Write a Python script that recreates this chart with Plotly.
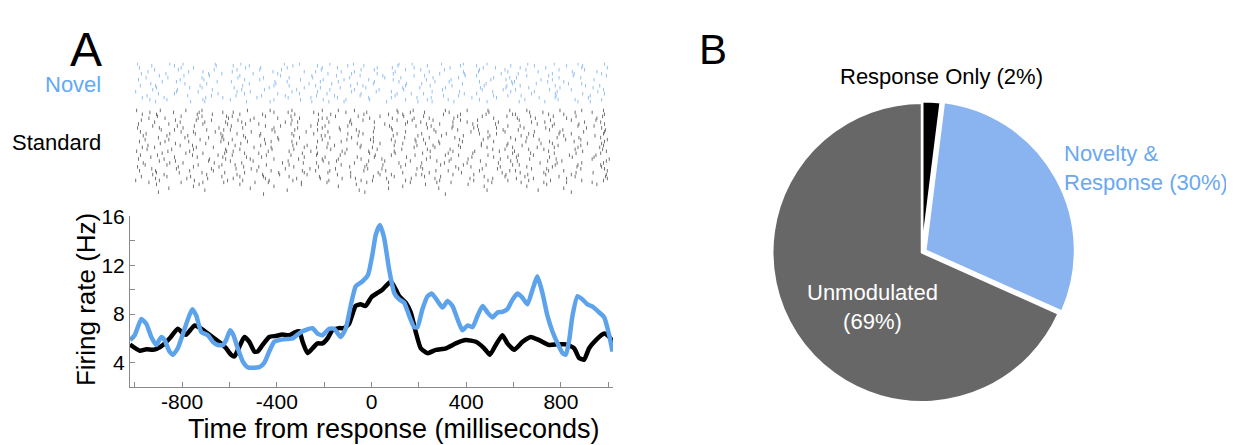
import plotly.graph_objects as go

# ---------------- Data ----------------
# Panel A, firing-rate traces (time in ms, rate in Hz)
std_t = [-1020, -979, -951, -923, -902, -881, -853, -818, -796, -782, -747, -719, -691, -663, -635,
         -614, -593, -579, -558, -537, -516, -495, -481, -460, -432, -404, -376, -347, -326, -305,
         -291, -270, -249, -228, -207, -186, -165, -137, -116, -95, -67, -46, -25, 0, 25, 46, 82,
         103, 117, 145, 166, 187, 208, 237, 272, 314, 356, 398, 441, 476, 500, 525, 553, 574, 603,
         638, 673, 708, 750, 786, 821, 856, 877, 898, 919, 948, 983, 1004, 1020]
std_hz = [5.5, 5.0, 5.12, 5.07, 5.2, 5.47, 6.0, 6.8, 6.4, 6.32, 7.07, 6.8, 6.4, 6.0, 5.6,
          5.2, 4.67, 4.53, 5.33, 6.13, 5.73, 4.93, 4.93, 5.47, 6.13, 6.21, 6.32, 6.27, 6.48, 6.59,
          5.73, 4.8, 5.2, 5.6, 5.6, 6.0, 6.67, 6.85, 6.85, 7.2, 8.67, 8.8, 8.67, 9.4, 9.73, 10.0, 10.67,
          10.0, 9.47, 8.93, 8.13, 6.53, 5.2, 4.8, 5.07, 5.2, 5.6, 5.87, 5.73, 5.2, 4.67, 5.47, 6.27, 5.6, 5.07,
          5.73, 6.13, 5.87, 5.47, 5.52, 5.52, 5.2, 4.4, 4.27, 5.2, 5.87, 6.4, 6.13, 5.73]

nov_t = [-1020, -1000, -972, -951, -930, -909, -888, -874, -853, -839, -818, -796, -775, -757, -740,
         -719, -691, -670, -649, -628, -614, -597, -583, -565, -544, -523, -502, -474, -453, -432,
         -411, -390, -361, -333, -312, -291, -270, -249, -228, -207, -179, -158, -130, -109, -88,
         -67, -39, -15, 4, 18, 36, 53, 75, 96, 117, 138, 159, 180, 194, 215, 237, 255, 279, 300,
         321, 342, 363, 384, 406, 427, 448, 469, 490, 511, 532, 553, 574, 596, 617, 638, 659, 680,
         701, 722, 743, 765, 786, 807, 821, 835, 849, 870, 891, 912, 934, 962, 983, 1004, 1018]
nov_hz = [5.87, 6.27, 7.6, 7.2, 6.13, 5.47, 6.13, 5.87, 4.93, 4.67, 5.2, 6.4, 7.6, 8.4, 7.87,
          6.53, 6.27, 5.73, 5.47, 5.47, 5.87, 6.67, 6.27, 5.2, 4.13, 3.65, 3.6, 3.65, 4.0, 4.93,
          5.73, 5.87, 5.95, 6.0, 6.32, 6.59, 6.75, 6.85, 6.4, 6.27, 6.8, 6.8, 6.13, 6.8, 8.67,
          10.27, 10.67, 11.2, 12.9, 14.5, 15.3, 14.27, 11.6, 9.73, 9.2, 8.93, 7.87, 6.93, 6.93, 8.4, 9.47, 9.68, 9.07, 8.53,
          9.07, 8.67, 7.6, 6.67, 7.07, 6.93, 7.87, 8.67, 8.13, 7.73, 8.13, 8.19, 8.4, 9.2, 9.68, 9.33, 8.8, 10.0,
          11.07, 9.73, 7.87, 6.53, 5.6, 4.8, 4.67, 5.87, 7.87, 9.47, 9.2, 8.8, 8.61, 8.13, 7.73, 6.27, 4.93]

x_tick_vals = [-800, -400, 0, 400, 800]
x_tick_text = ["-800", "-400", "0", "400", "800"]
y_tick_vals = [4, 8, 12, 16]
y_tick_text = ["4", "8", "12", "16"]

# Panel A, spike rasters: one string per trial, 40-ms bins from -1000 ms;
# a digit marks a spike, its value = position inside the bin in tenths.
raster_t0 = -1000
raster_bin = 40
novel_trials = [
    "3..7.1..5. .2...8.4.. 6..1...9.3 ..4.7..2.. .5..3.8..6",
    ".8..2...6. 4.1...7..3 ..5.2..8.. 9...4.1..7 ..2..6.3..",
    "5...9.2... .7.3..1..8 .4...6.2.5 ...3..8.1. 7..4...2.9",
    "..1.6...4. 8..2.5...7 ...9.3..6. 2.7...4..1 .3..8..5..",
    ".4...7.2.. 3...6..9.1 .8.2...5.. .1..7.3..4 ..6...2.8.",
    "7..3...8.2 ..5..1.... 4.9..6.3.. ..2.8...7. 5...1.4..3",
    "..6..2.9.. .1...4..7. .3.8..2..5 6...9.1... .4.7..3..8",
    ".2.5...1.. 9..6..3.8. ..7...4.1. .5..2..9.6 3...8..1..",
    "4...8..3.. .6.2...5.9 ..1.7..3.. 8..4...6.2 ..9.1...5.",
    "..9.4...7. 2...8.1..6 .5...3.9.. .7.2..4..8 1..6.3....",
    ".7...3.6.. ..1.9...4. 8..5.2..7. 3...6..1.9 ..4..8.2..",
    "6.2...9... .4..7.3..1 ..8.1...6. .2.5..9..3 7...4..6.1",
    "..3..8.1.. 5...2..9.6 .7..4...3. 1.8...5..2 .6..9...4.",
    ".9..5...2. .3.7...1.. 6..2.8..4. ..5...7.9. 2..8..1..5",
    "1...4.7... 8.2...6..3 ..9..5.1.. .4..3..8.7 ..2.6...9.",
    "..5.2...8. .6...1.4.. 3..9...7.2 5...8.1... .9..4..3.6",
    ".3...6..1. 7..4.9...2 .1.8...5.. ..6.2..9.4 8...5...1.",
    "8..1...5.3 ..9...2.6. .4..7..1.8 .3...6..2. ..7.4..9..",
    ".6.4...2.. 1...7..5.9 ..3.8...6. 9..1..4... .2..7.5..3",
    "..2..9.4.. .8..3...7. 5.1...6..9 .4.7...2.. 6..3..8.1.",
]
standard_trials = [
    "2.7..4.1.. .9..3.6..8 .5.2...7.4 ..8..1.3.6 .4..9..2.5",
    ".6..1.8..3 4...7.2.9. ..3.5..8.1 6..2...4.. .7.1..5.3.",
    "8.3...6.2. .1.5..9..4 7...2.8.3. ..6.4..1.9 2..7.3...6",
    "..4.9..1.7 3..8..5... .2.6.9..4. 5...1.7..3 .8..2.6..4",
    ".5.2..7..9 ..6..1.4.8 3...8..2.5 .1.7...9.. 4.3..6..8.",
    "7...3.5.1. 9.2...6..4 ..8.1..7.3 .5..4.2... 6..9..1.7.",
    "..1.8..4.6 .3...9.2.. 5.7..3..8. 2..6.1..4. .9.3...5.2",
    "4..6...2.8 .7.1..5..3 ..9...4.6. 8.2..7..1. ..5.3.9..6",
    ".9..5.3... 2..8.4..6. 1.5...9..7 .3.6..2..4 7...1.8.5.",
    "3.6..1..9. .4..7..2.8 .6...3.1.. 9..5.8..2. .1.4...7.3",
    "..8.2..6.4 1...5.9..3 .7.4...2.. .6..1.3.9. 5..8.2...7",
    "6...9.2.5. ..3.8...1. 4..7.2..6. .8...5.3.1 ..2.9..4.6",
    ".2.7..4..1 8..3..6.9. ..5.1..7.. 3.9...4.2. .6..8.1..5",
    "9..4.6...3 .5.2..8..7 1..6...3.9 ..4.7..5.. 8.1..3..6.",
    "..5..3.8.2 .7...1.4.. 6.9..2..5. .1.8...3.7 .4..6.9..2",
    ".1.6..9..4 3..7.2...8 ..4.9..1.6 5...3.8... 2.7..5.1.9",
    "5..2.7...1 .9..4.6..3 .8...2.5.7 ..1.6..9.. .3.8..4..6",
    "..7.3..5.9 .2.8...1.. 4..5.9..3. 7.2...6..4 ..9.1..8.3",
    ".4..8.1... 6..3..7.2. .1.9...4.8 .5..2.6..3 9...7..1.5",
    "8.1...5.3. ..6.4..9.2 3..8.1...5 .7..4..2.9 ..5.3.8..1",
    ".3.9..2..6 .1..5.8... 7.4..6..2. 9..3...8.1 .6.2..5..4",
    "2..5.8...7 4...1.3.6. .9..7..4.. .2.6.9..5. 1..7...3.8",
    "..9..4.2.5 .6.1...7.3 ..2.8..5.. 4..1.7...9 .8..3.6..2",
    "6.4...1.8. 3..9..5..2 .7...4.1.6 ..8.2..3.. 5.1..9..7.",
    ".7..2.6..3 .8.4...9.. 1..5.3..7. .2...6.9.4 3..8..2.5.",
    "4..1...9.6 ..2.7..3.8 .5.9..1... 8..4.2..6. .7..5...3.1",
    "..6.3..8.. 1.5...2..9 .3..7.4..1 .9.2..5..7 4..6.1...8",
    "9..7.1..4. .3...6.8.2 5..2...9.. 3.7..1..4. ..8.6..2.5",
    ".1.4..7..2 6..9..3... .8..5.2.6. ..3.7..1.9 6...4.8..2",
    "3...6.2.9. .5.1..8..4 ..7.3...1. 2..9.5..6. .4..1.7..3",
    ".8..4...1. 7.3..9..5. .2..6.1..8 4...2.7.3. .9.5...1.6",
    "5.2..8..3. ..9.4..7.1 6...2.5... .8.1..4..6 2..7.3...9",
    "..3.7..1.5 .6...2.9.. 4.8..7..3. .1..5...8. 7..2..6.4.",
    ".9.1...6.. 8..5.3..2. .4...9.1.7 3..6.8...2 .5.4..1..8",
    "7..4.9...2 .1.6..3..5 ..8..2.4.. 6.3...9..1 .2..8.5..7",
    "..2..5.7.. 4..8...1.6 .9.3..6..2 .7...4.8.. 3.1..6...9",
    "1.6...3..8 .4..2.7... 5..9.1..6. ..2..8.3.4 .6.9...2.5",
    ".5..9..2.4 ..7.1..6.. 3...5.8..1 .9.4...7.. 8..2.6..3.",
    "..3...8... .1.....6.. ...4...... 7....2.... ...5....8.",
    "......2... ....7..... .5......3. ......9... .4........",
    "...6...... ..2....... ......8... ..1....... .....3....",
    ".......4.. ......1... ...7...... .......2.. ..6.......",
    "..5....... .......... ....3..... .......... ......1...",
    ".......... ...6...... .......... ..8....... ..........",
]

# Panel B, pie
pie_labels = ["Response Only", "Novelty &<br>Response", "Unmodulated<br>"]
pie_pcts = [2, 30, 69]
pie_colors = ["#000000", "#8ab4f0", "#676767"]

# ---------------- Layout helpers ----------------
# the page body has an 8px margin, so the figure is shifted by 8px
OFF = 8
W, H = 1234 - OFF, 445 - OFF
def px(x): return (x - OFF) / W
def py(y): return 1 - (y - OFF) / H

FONT = "Liberation Sans, Arial, Helvetica, sans-serif"
BLUE_LINE = "#5da3ec"
AXC = "#8a8a8a"

RASTER_TOP, RASTER_BOT = 52, 189
RASTER_H = RASTER_BOT - RASTER_TOP


def raster_xy(rows, top_px, pitch):
    xs, ys = [], []
    for k, row in enumerate(rows):
        row = row.replace(" ", "")
        yc = RASTER_H - (top_px + pitch * (k + 0.5))
        for i, ch in enumerate(row):
            if ch.isdigit():
                t = raster_t0 + (i + int(ch) / 10) * raster_bin
                xs += [t, t, None]
                ys += [yc - 1.8, yc + 1.8, None]
    return xs, ys

fig = go.Figure()

nx, ny = raster_xy(novel_trials, 0, 2.05)
sx, sy = raster_xy(standard_trials, 48, 2.0)
fig.add_trace(go.Scatter(x=nx, y=ny, mode="lines", line=dict(color="#93bff2", width=1),
                         xaxis="x", yaxis="y", hoverinfo="skip"))
fig.add_trace(go.Scatter(x=sx, y=sy, mode="lines", line=dict(color="#707070", width=1),
                         xaxis="x", yaxis="y", hoverinfo="skip"))

fig.add_trace(go.Scatter(x=std_t, y=std_hz, mode="lines",
                         line=dict(color="black", width=4.5, shape="spline", smoothing=0.5),
                         xaxis="x2", yaxis="y2"))
fig.add_trace(go.Scatter(x=nov_t, y=nov_hz, mode="lines",
                         line=dict(color=BLUE_LINE, width=4.5, shape="spline", smoothing=0.5),
                         xaxis="x2", yaxis="y2"))

pie_pull = 0.025
cx, cy, r = 922, 247, 154
half = r * (1 + pie_pull)
fig.add_trace(go.Pie(values=pie_pcts, labels=[l.replace("<br>", " ") for l in pie_labels],
                     marker=dict(colors=pie_colors, line=dict(color="white", width=2.5)),
                     sort=False, direction="clockwise", rotation=0,
                     pull=[0.01, pie_pull, 0], textinfo="none",
                     domain=dict(x=[px(cx - half), px(cx + half)], y=[py(cy + half), py(cy - half)])))

xdom = [px(130), px(613)]
fig.update_layout(
    width=W, height=H, margin=dict(l=0, r=0, t=0, b=0),
    paper_bgcolor="white", plot_bgcolor="white", showlegend=False,
    font=dict(family=FONT, color="black"),
    xaxis=dict(domain=xdom, range=[-1020, 1020], visible=False, anchor="y"),
    yaxis=dict(domain=[py(RASTER_BOT), py(RASTER_TOP)], range=[0, RASTER_H], visible=False, anchor="x"),
    xaxis2=dict(domain=xdom, range=[-1020, 1020], anchor="y2",
                showline=True, linecolor=AXC, linewidth=1, mirror=False,
                ticks="inside", ticklen=5, tickcolor=AXC, tickwidth=1,
                tickmode="array", tickvals=x_tick_vals, ticktext=x_tick_text,
                ticklabelstandoff=-5,
                showgrid=False, zeroline=False,
                minor=dict(tickmode="linear", tick0=0, dtick=200, ticks="inside", ticklen=5,
                           tickcolor=AXC, showgrid=False),
                tickfont=dict(size=21, family=FONT)),
    yaxis2=dict(domain=[py(385.7), py(210)], range=[2, 16], anchor="x2",
                showline=True, linecolor=AXC, linewidth=1,
                ticks="inside", ticklen=5, tickcolor=AXC, tickwidth=1,
                tickmode="array", tickvals=y_tick_vals, ticktext=y_tick_text,
                showgrid=False, zeroline=False,
                minor=dict(tickmode="linear", tick0=0, dtick=2, ticks="inside", ticklen=5,
                           tickcolor=AXC, showgrid=False),
                tickfont=dict(size=21, family=FONT)),
)

ann = []
def add_text(text, x, y, size, color="black", xa="center", ya="middle", angle=0, align="center"):
    ann.append(dict(text=text, x=px(x), y=py(y), xref="paper", yref="paper", showarrow=False,
                    xanchor=xa, yanchor=ya, textangle=angle, align=align,
                    font=dict(size=size, color=color, family=FONT)))

add_text("A", 104, 38, 48, xa="right")
add_text("B", 697, 38, 42, xa="left")
add_text("Novel", 103, 74, 22, color="#62aaf5", xa="right")
add_text("Standard", 103, 134, 22, xa="right")
add_text("Firing rate (Hz)", 86, 296, 26, angle=-90)
add_text("Time from response (milliseconds)", 394, 429, 27)
add_text(f"{pie_labels[0]} ({pie_pcts[0]}%)", 941, 66, 22)
add_text(f"{pie_labels[1]} ({pie_pcts[1]}%)", 1062, 160, 22, color="#6aa8f0", xa="left", align="left")
add_text(f"{pie_labels[2]}({pie_pcts[2]}%)", 872, 303, 22, color="white")
fig.update_layout(annotations=ann)

fig.write_html("out.html")
